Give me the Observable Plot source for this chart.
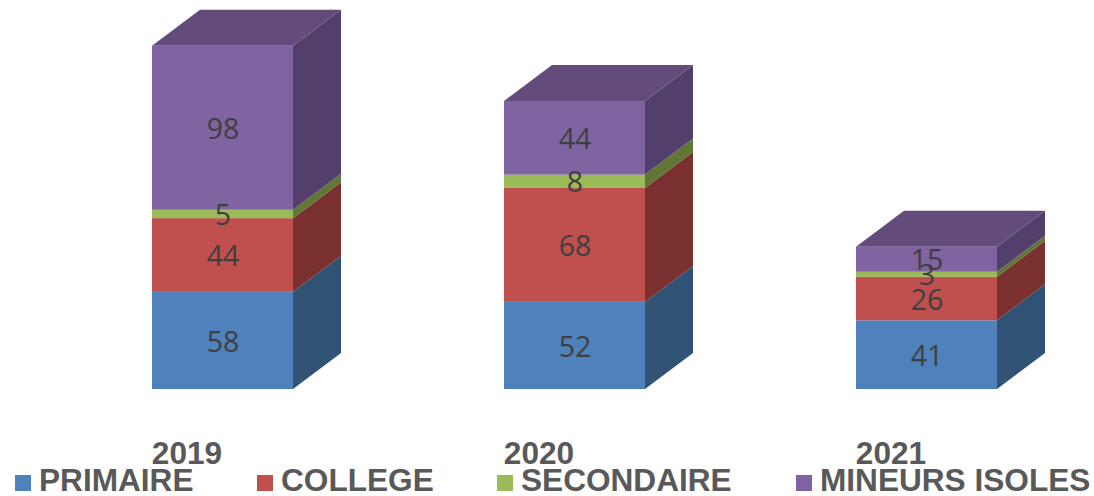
<!DOCTYPE html>
<html><head><meta charset="utf-8">
<script src="https://cdn.jsdelivr.net/npm/d3@7"></script>
<script src="https://cdn.jsdelivr.net/npm/@observablehq/plot@0.6"></script>
<style>
html,body{margin:0;padding:0;background:#fff;width:1094px;height:496px;overflow:hidden}
#chart svg{display:block;background:transparent}
#legend{position:absolute;left:0;top:0;width:1094px;height:496px;pointer-events:none;font:bold 31.6px "Liberation Sans",Arial,sans-serif;color:#595959}
.item{position:absolute;top:465px;height:31px;line-height:31px;white-space:nowrap}
.sw{position:absolute;left:0;top:10px;width:16px;height:16px}
.lb{position:absolute;top:0}
</style></head><body>
<div id="chart"></div><div id="legend"></div>
<script>
const years = ["2019", "2020", "2021"];
const seriesNames = ["PRIMAIRE", "COLLEGE", "SECONDAIRE", "MINEURS ISOLES"];
const primaire = [58, 52, 41];
const college = [44, 68, 26];
const secondaire = [5, 8, 3];
const mineurs = [98, 44, 15];
const frontColors = ["#4f81bd", "#c0504d", "#9bbb59", "#8064a2"];
const sideColors = ["#305275", "#7a302e", "#617535", "#523f6b"];
const topColor = "#634c7c";
const legendLeft = [15, 257, 497, 796];
const legendTextOffset = 24;

const W = 1094, H = 466, baseY = 389;
const unit = 352;            // px per category
const pxPerVal = 1.675;
const halfW = 0.2003;        // half of bar width, category units
const depthX = 48 / unit;    // depth, category units
const depthY = 36 / pxPerVal;// depth, value units
const x0 = 222.5 / unit;

const all = [primaire, college, secondaire, mineurs];
const segs = [];
years.forEach((yr, i) => {
  let acc = 0;
  all.forEach((vals, s) => {
    segs.push({i, s, yr, v: vals[i], y1: acc, y2: acc + vals[i]});
    acc += vals[i];
  });
});
const tops = years.map((yr, i) => ({i, total: d3.sum(all, v => v[i])}));

function sidePts(s) {
  return segs.filter(d => d.s === s).flatMap(d => [
    {key: d.i, x: d.i + halfW, a: d.y1, b: d.y2},
    {key: d.i, x: d.i + halfW + depthX, a: d.y1 + depthY, b: d.y2 + depthY}
  ]);
}
const topPts = tops.flatMap(t => [
  {key: t.i, x: t.i - halfW, a: t.total, b: t.total},
  {key: t.i, x: t.i - halfW + depthX, a: t.total, b: t.total + depthY},
  {key: t.i, x: t.i + halfW, a: t.total, b: t.total + depthY},
  {key: t.i, x: t.i + halfW + depthX, a: t.total + depthY, b: t.total + depthY}
]);

const chart = Plot.plot({
  width: W, height: H,
  marginLeft: 0, marginRight: 0, marginTop: 0, marginBottom: H - baseY,
  style: {background: "transparent", overflow: "visible"},
  x: {domain: [-x0, (W - 222.5) / unit], axis: null},
  y: {domain: [0, baseY / pxPerVal], axis: null},
  marks: [
    ...seriesNames.map((n, s) => Plot.area(sidePts(s), {x1: "x", y1: "a", y2: "b", z: "key", fill: sideColors[s], curve: "linear"})),
    Plot.area(topPts, {x1: "x", y1: "a", y2: "b", z: "key", fill: topColor, curve: "linear"}),
    ...seriesNames.map((n, s) => Plot.rectY(segs.filter(d => d.s === s), {
      x1: d => d.i - halfW, x2: d => d.i + halfW, y1: "y1", y2: "y2", fill: frontColors[s], inset: 0
    })),
    Plot.text(segs, {
      x: "i", y: d => (d.y1 + d.y2) / 2, text: d => String(d.v), dy: 1.5,
      fill: "#3f3f3f", fontSize: 28.5, fontFamily: "'Open Sans',sans-serif"
    }),
    Plot.axisX({
      ticks: [0, 1, 2], tickFormat: i => years[i], tickSize: 0, tickPadding: 52, dx: -36,
      anchor: "bottom", label: null, fontSize: 31.6, fontWeight: "bold",
      fontFamily: "'Liberation Sans',Arial,sans-serif", fill: "#595959"
    })
  ]
});
document.getElementById("chart").appendChild(chart);

const lg = document.getElementById("legend");
seriesNames.forEach((n, s) => {
  const it = document.createElement("div");
  it.className = "item";
  it.style.left = legendLeft[s] + "px";
  const sw = document.createElement("div");
  sw.className = "sw"; sw.style.background = frontColors[s];
  const lb = document.createElement("div");
  lb.className = "lb"; lb.style.left = legendTextOffset + "px"; lb.textContent = n;
  it.append(sw, lb);
  lg.appendChild(it);
});
</script>
</body></html>
